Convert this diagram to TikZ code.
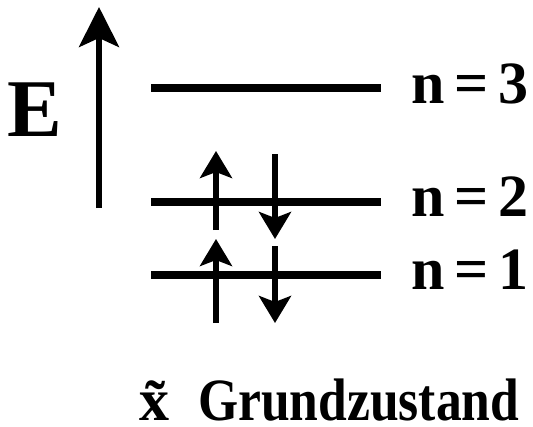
\documentclass[tikz,border=0pt]{standalone}
\usepackage{fontspec}
\setmainfont{Liberation Serif}
\usetikzlibrary{arrows.meta, positioning}

\begin{document}
\begin{tikzpicture}[x=1pt, y=-1pt,
        level/.style={line width=7.5pt},
        spin/.style={line width=6.5pt, -{Stealth[width=32pt, length=27pt, inset=6pt]}},
        lbl/.style={font=\bfseries\fontsize{60}{60}\selectfont, inner sep=0pt, anchor=base west}]
        \useasboundingbox (0,0) rectangle (533,426);

        % energy axis
        \node[font=\bfseries\fontsize{82}{82}\selectfont, inner sep=0pt, anchor=base] (E) at (35,136) {E};
        \coordinate (e0) at (99,208);
        \coordinate (e1) at (99,7);
        \draw[line width=5.5pt, -{Stealth[width=40pt, length=40pt, inset=9pt]}] (e0) -- (e1);

        % levels
        \coordinate (l3a) at (151,88);  \coordinate (l3b) at (381,88);
        \coordinate (l2a) at (151,202); \coordinate (l2b) at (381,202);
        \coordinate (l1a) at (151,275); \coordinate (l1b) at (381,275);
        \draw[level] (l3a) -- (l3b);
        \draw[level] (l2a) -- (l2b);
        \draw[level] (l1a) -- (l1b);

        \node[lbl] (n3) at (411,103) {n\,=\,3};
        \node[lbl] (n2) at (411,216) {n\,=\,2};
        \node[lbl] (n1) at (411,289) {n\,=\,1};

        % electrons
        \coordinate (u2a) at (216,230); \coordinate (u2b) at (216,151);
        \coordinate (d2a) at (275,154); \coordinate (d2b) at (275,239);
        \coordinate (u1a) at (216,323); \coordinate (u1b) at (216,239);
        \coordinate (d1a) at (275,246); \coordinate (d1b) at (275,323);
        \draw[spin] (u2a) -- (u2b);
        \draw[spin] (d2a) -- (d2b);
        \draw[spin] (u1a) -- (u1b);
        \draw[spin] (d1a) -- (d1b);

        \node[lbl, text depth=0pt] (xt) at (139,420) {x̃};
        \node[lbl, text depth=0pt, xscale=0.86] (gz) at (198,420) {Grundzustand};
    \end{tikzpicture}
\end{document}
